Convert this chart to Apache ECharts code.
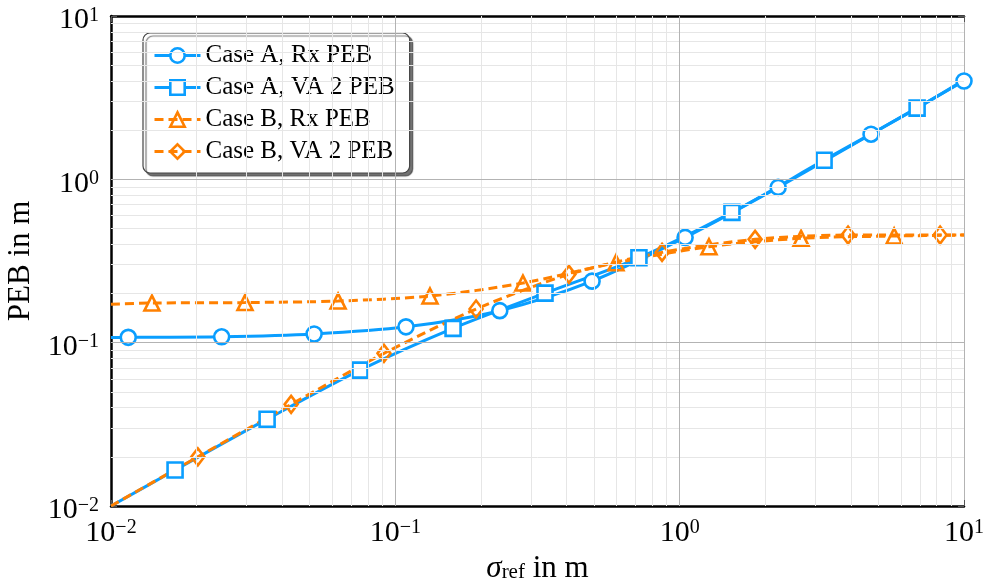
<!DOCTYPE html>
<html>
<head>
<meta charset="utf-8">
<script src="https://cdn.jsdelivr.net/npm/echarts@6/dist/echarts.min.js"></script>
<style>
  html, body { margin: 0; padding: 0; background: #fff; }
  #chart { width: 984px; height: 588px; }
</style>
</head>
<body>
<div id="chart"></div>
<script>
// values (log-log, sigma_ref in m vs PEB in m)
const caseARxX = [0.01, 0.0115, 0.0245, 0.0518, 0.109, 0.233, 0.492, 1.045, 2.22, 4.71, 10];
const caseARxY = [0.1076, 0.1078, 0.1086, 0.113, 0.125, 0.157, 0.238, 0.441, 0.893, 1.89, 4.0];

const caseAVaX = [0.01, 0.0168, 0.0354, 0.0751, 0.1596, 0.336, 0.719, 1.527, 3.22, 6.84, 10];
const caseAVaY = [0.01, 0.0166, 0.034, 0.0679, 0.1224, 0.201, 0.331, 0.628, 1.31, 2.73, 4.05];

const caseBRxX = [0.01, 0.01393, 0.0296, 0.0629, 0.1324, 0.281, 0.597, 1.268, 2.673, 5.68, 10];
const caseBRxY = [0.172, 0.1748, 0.176, 0.1798, 0.193, 0.2317, 0.3085, 0.3867, 0.4355, 0.4497, 0.456];

const caseBVaX = [0.01, 0.0202, 0.043, 0.0912, 0.1923, 0.408, 0.867, 1.842, 3.91, 8.24, 10];
const caseBVaY = [0.01, 0.02, 0.0419, 0.086, 0.1607, 0.262, 0.357, 0.429, 0.456, 0.456, 0.457];

const seriesNames = ["Case A, Rx PEB", "Case A, VA 2 PEB", "Case B, Rx PEB", "Case B, VA 2 PEB"];

// grid lines of the log axes
const decades = [0.01, 0.1, 1];
const mantissas = [2, 3, 4, 5, 6, 7, 8, 9];
const majorLines = [0.1, 1];

const BLUE = "#0a9eff";
const ORANGE = "#ff8000";
const FONT = "'Liberation Serif', 'DejaVu Serif', serif";

let minorVals = [];
decades.forEach((d) => mantissas.forEach((m) => minorVals.push(+(m * d).toPrecision(3))));

// first point (and last one when unmarked) sits on the plot edge without a marker
const pairs = (xs, ys, lastMarked) =>
  xs.map((x, i) => {
    const noMark = i === 0 || (i === xs.length - 1 && !lastMarked);
    return noMark ? { value: [x, ys[i]], symbol: "none" } : [x, ys[i]];
  });

const sup = { "0": "0", "1": "1", "-1": "−1", "-2": "−2" };
const tickFormatter = (v) => {
  const e = Math.round(Math.log10(v));
  return "{b|10}{s|" + (sup[String(e)] || String(e)) + "}";
};
const tickRich = {
  b: { fontSize: 30, lineHeight: 30, fontFamily: FONT, color: "#000" },
  s: { fontSize: 20, lineHeight: 18, fontFamily: FONT, color: "#000", verticalAlign: "top" }
};

const minorStyle = { color: "#e6e6e6", width: 1, type: "solid" };
const majorStyle = { color: "#b3b3b3", width: 1, type: "solid" };

let gridLines = [];
minorVals.forEach((v) => {
  gridLines.push({ xAxis: v, lineStyle: minorStyle });
  gridLines.push({ yAxis: v, lineStyle: minorStyle });
});
majorLines.forEach((v) => {
  gridLines.push({ xAxis: v, lineStyle: majorStyle });
  gridLines.push({ yAxis: v, lineStyle: majorStyle });
});

const lineSeries = (name, data, color, symbol, size, dashed) => ({
  name: name,
  type: "line",
  data: data,
  symbol: symbol,
  symbolSize: size,
  smooth: 0.3,
  showAllSymbol: true,
  lineStyle: { color: color, width: 3, type: dashed ? [9, 5] : "solid" },
  itemStyle: { color: dashed ? "rgba(255,255,255,0)" : "#fff", borderColor: color, borderWidth: 2.6 },
  emphasis: { disabled: true },
  z: 3
});

const logAxis = (extra) =>
  Object.assign(
    {
      type: "log",
      logBase: 10,
      min: 0.01,
      max: 10,
      splitLine: { show: false },
      axisTick: { show: true, inside: true, length: 6, lineStyle: { color: "#555" } }
    },
    extra
  );

const chart = echarts.init(document.getElementById("chart"));
chart.setOption({
  animation: false,
  grid: { left: 111, right: 20, top: 16, bottom: 82, outerBoundsMode: "none", containLabel: false },
  legend: {
    data: seriesNames,
    orient: "vertical",
    left: 143,
    top: 33,
    itemWidth: 46,
    itemHeight: 18,
    itemGap: 7,
    padding: [10, 15, 9, 10],
    backgroundColor: "#fff",
    borderColor: "#444",
    borderWidth: 1.2,
    borderRadius: 7,
    shadowColor: "rgba(0,0,0,0.55)",
    shadowBlur: 1,
    shadowOffsetX: 3,
    shadowOffsetY: 3,
    lineStyle: { width: 3 },
    itemStyle: { borderWidth: 2.6 },
    textStyle: { fontFamily: FONT, fontSize: 25, color: "#000" },
    selectedMode: false
  },
  xAxis: [
    logAxis({
      position: "bottom",
      axisLine: { lineStyle: { color: "#000", width: 2.5 } },
      axisLabel: { formatter: tickFormatter, rich: tickRich, margin: 12 },
      name: "{i|σ}{sub|ref}{n| in m}",
      nameLocation: "middle",
      nameGap: 42,
      nameTextStyle: {
        rich: {
          i: { fontSize: 31, lineHeight: 30, fontFamily: FONT, fontStyle: "italic", color: "#000" },
          sub: { fontSize: 21, lineHeight: 16, fontFamily: FONT, color: "#000", verticalAlign: "bottom" },
          n: { fontSize: 31, lineHeight: 30, fontFamily: FONT, color: "#000" }
        }
      }
    }),
    logAxis({
      position: "top",
      axisLine: { lineStyle: { color: "#000", width: 2.5 } },
      axisLabel: { show: false }
    })
  ],
  yAxis: [
    logAxis({
      position: "left",
      axisLine: { show: true, lineStyle: { color: "#000", width: 2.5 } },
      axisLabel: { formatter: tickFormatter, rich: tickRich, margin: 12, padding: [9, 0, 0, 0] },
      name: "PEB in m",
      nameLocation: "middle",
      nameGap: 66,
      nameTextStyle: { fontFamily: FONT, fontSize: 31, lineHeight: 30, color: "#000" }
    }),
    logAxis({
      position: "right",
      axisLine: { show: true, lineStyle: { color: "#b3b3b3", width: 1 } },
      axisLabel: { show: false }
    })
  ],
  series: [
    {
      name: "grid",
      type: "line",
      data: [],
      z: 1,
      silent: true,
      markLine: {
        silent: true,
        symbol: ["none", "none"],
        label: { show: false },
        emphasis: { disabled: true },
        animation: false,
        data: gridLines
      }
    },
    lineSeries(seriesNames[0], pairs(caseARxX, caseARxY, true), BLUE, "circle", 15, false),
    lineSeries(seriesNames[1], pairs(caseAVaX, caseAVaY, false), BLUE, "rect", 15, false),
    lineSeries(seriesNames[2], pairs(caseBRxX, caseBRxY, false), ORANGE, "triangle", 15, true),
    lineSeries(seriesNames[3], pairs(caseBVaX, caseBVaY, false), ORANGE, "diamond", [13, 17], true)
  ]
});
</script>
</body>
</html>
